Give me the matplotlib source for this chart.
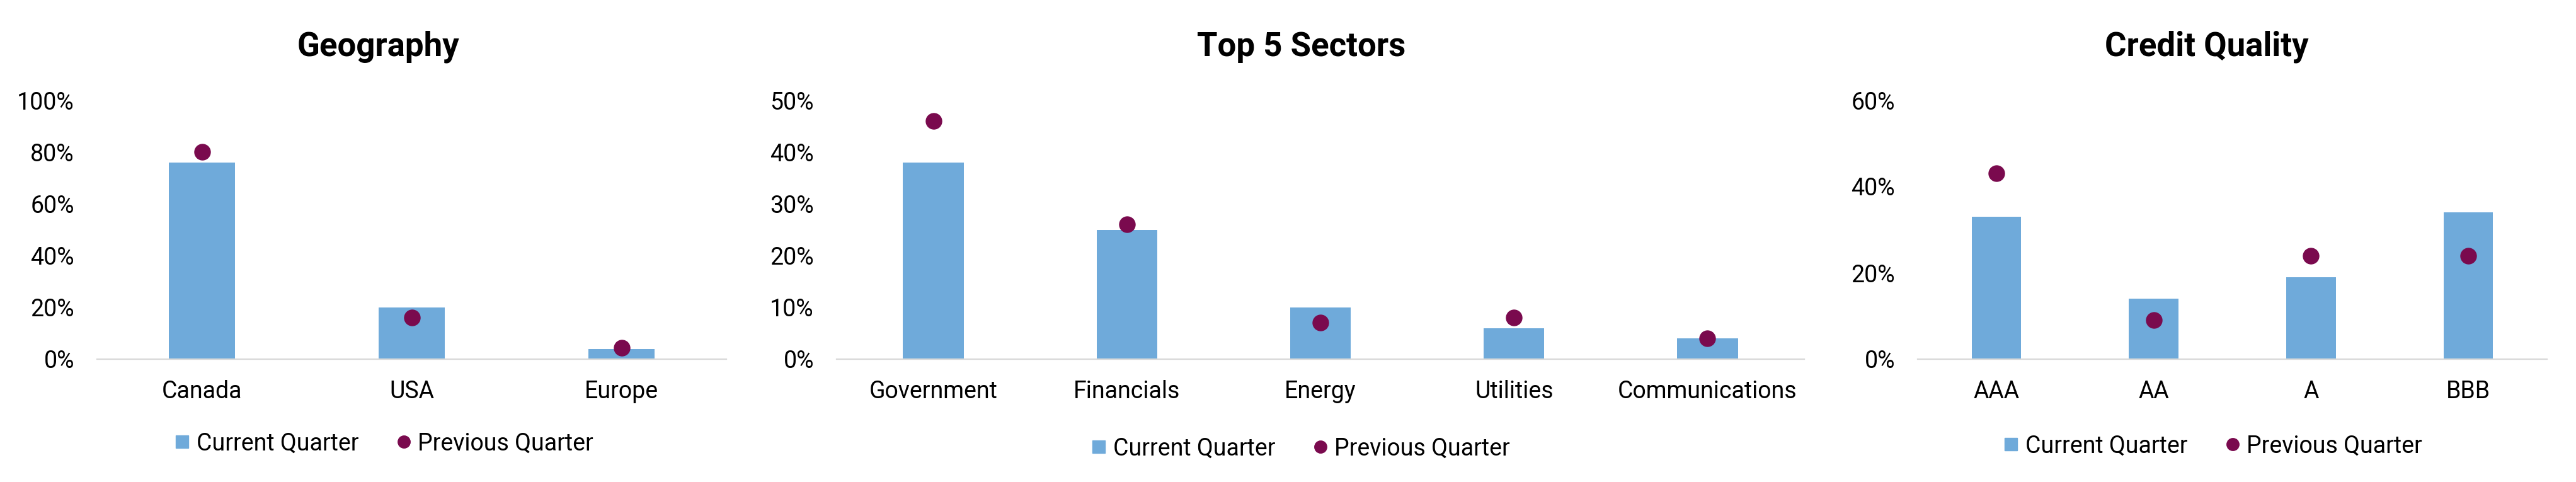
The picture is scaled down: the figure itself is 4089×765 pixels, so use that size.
import matplotlib
matplotlib.use('Agg')
import matplotlib.pyplot as plt
from matplotlib.lines import Line2D
from matplotlib.ticker import FuncFormatter

plt.rcParams['font.family'] = ['Roboto', 'DejaVu Sans']

# data (percent)
geo_labels = ['Canada', 'USA', 'Europe']
geo_current = [76, 20, 4]
geo_previous = [80, 16, 4.5]

sector_labels = ['Government', 'Financials', 'Energy', 'Utilities', 'Communications']
sector_current = [38, 25, 10, 6, 4]
sector_previous = [46, 26, 7, 8, 4]

credit_labels = ['AAA', 'AA', 'A', 'BBB']
credit_current = [33, 14, 19, 34]
credit_previous = [43, 9, 24, 24]

BAR_COLOR = '#6FAADA'
DOT_COLOR = '#7A0A4E'
AXIS_COLOR = '#D9D9D9'

W, H = 4089, 765
fig = plt.figure(figsize=(W / 100, H / 100), dpi=100)

# pixel layout: (axis left, axis right, title x, legend x, legend y, ymax, ystep)
panels = [
    ('Geography', geo_labels, geo_current, geo_previous, 154, 1153, 600, 610, 704, 100, 20),
    ('Top 5 Sectors', sector_labels, sector_current, sector_previous, 1328, 2864, 2066, 2065, 712, 50, 10),
    ('Credit Quality', credit_labels, credit_current, credit_previous, 3044, 4043, 3503, 3513, 708, 60, 20),
]

ax_top, ax_bottom = 159, 570

for title, labels, cur, prev, x0, x1, tx, lx, ly, ymax, ystep in panels:
    ax = fig.add_axes([x0 / W, 1 - ax_bottom / H, (x1 - x0) / W, (ax_bottom - ax_top) / H])
    xs = range(len(labels))
    ax.bar(xs, cur, width=0.314, color=BAR_COLOR, zorder=2)
    ax.plot(xs, prev, 'o', ls='none', ms=18, color=DOT_COLOR, zorder=3)

    ax.set_xlim(-0.5, len(labels) - 0.5)
    ax.set_ylim(0, ymax)
    ax.set_yticks(range(0, ymax + 1, ystep))
    ax.yaxis.set_major_formatter(FuncFormatter(lambda v, p: f'{v:.0f}%'))
    ax.set_xticks(list(xs))
    ax.set_xticklabels(labels)
    ax.tick_params(axis='both', length=0, labelsize=27)
    ax.tick_params(axis='y', pad=26)
    ax.tick_params(axis='x', pad=24)

    for side in ['top', 'right', 'left']:
        ax.spines[side].set_visible(False)
    ax.spines['bottom'].set_color(AXIS_COLOR)
    ax.spines['bottom'].set_linewidth(1.6)
    ax.spines['bottom'].set_zorder(4)

    fig.text(tx / W, 1 - 74 / H, title, ha='center', va='center',
             fontsize=38, fontweight='bold')

    handles = [
        Line2D([], [], marker='s', ls='none', ms=14, color=BAR_COLOR),
        Line2D([], [], marker='o', ls='none', ms=14, color=DOT_COLOR),
    ]
    ax.legend(handles, ['Current Quarter', 'Previous Quarter'], loc='center',
              bbox_to_anchor=(lx / W, 1 - ly / H), bbox_transform=fig.transFigure,
              ncol=2, frameon=False, fontsize=27, handlelength=0.6,
              handletextpad=0.3, columnspacing=1.6, borderaxespad=0)

fig.savefig('out.png', dpi=100, facecolor='white')
